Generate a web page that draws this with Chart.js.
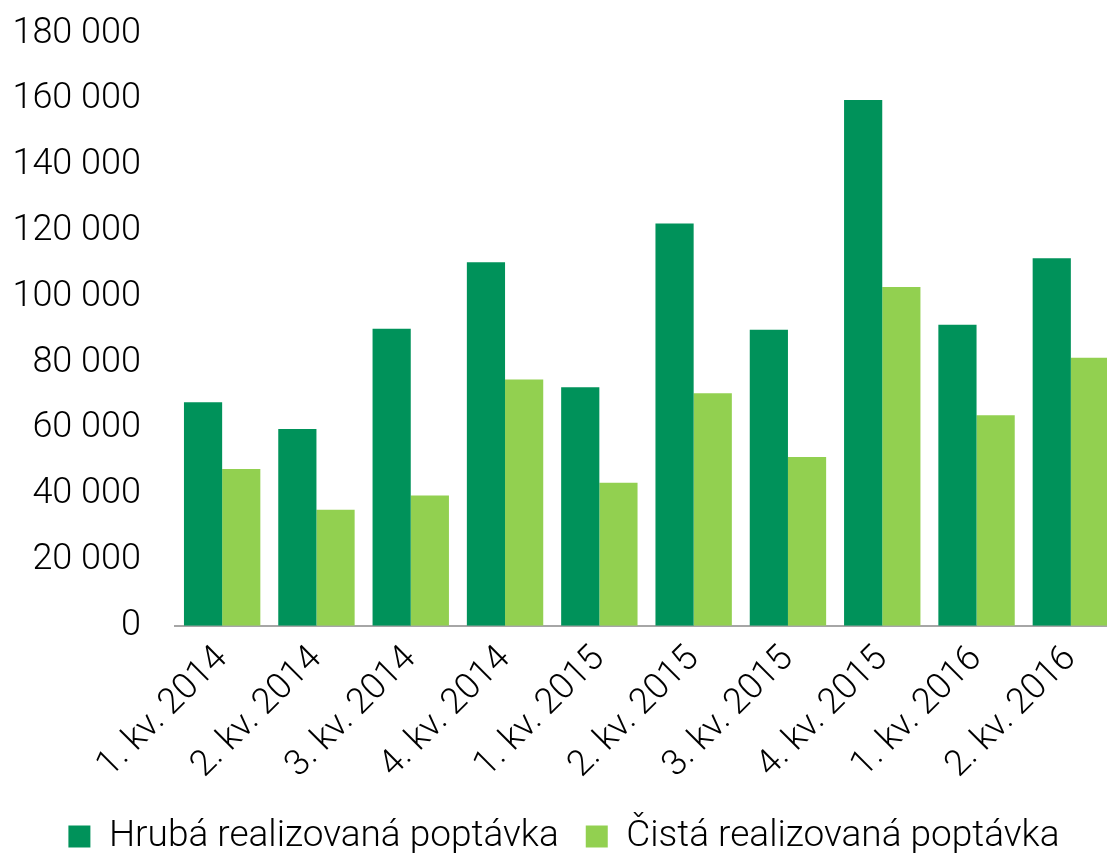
<!DOCTYPE html>
<html>
<head>
<meta charset="utf-8">
<script src="https://cdn.jsdelivr.net/npm/chart.js@4"></script>
<style>
  html, body { margin: 0; padding: 0; background: #fff; overflow: hidden; }
  #wrap { width: 1118px; height: 887px; margin-top: -22px; }
</style>
</head>
<body>
<div id="wrap"><canvas id="myChart"></canvas></div>
<script>
// quarters on the x axis
var categories = ['1. kv. 2014', '2. kv. 2014', '3. kv. 2014', '4. kv. 2014',
    '1. kv. 2015', '2. kv. 2015', '3. kv. 2015', '4. kv. 2015',
    '1. kv. 2016', '2. kv. 2016'];

// values
var hrubaValues = [68000, 59800, 90300, 110500, 72500, 122300, 90000, 159800, 91500, 111700];
var cistaValues = [47700, 35300, 39600, 74900, 43500, 70700, 51300, 103000, 64000, 81500];

var seriesNames = ['Hrubá realizovaná poptávka', 'Čistá realizovaná poptávka'];

var fontFamily = 'Roboto, "Liberation Sans", sans-serif';
var tickFont = { family: fontFamily, size: 36, weight: '300' };

var ctx = document.getElementById('myChart').getContext('2d');
var myChart = new Chart(ctx, {
    type: 'bar',
    data: {
        labels: categories,
        datasets: [{
            label: seriesNames[0],
            data: hrubaValues,
            backgroundColor: '#00925a',
            categoryPercentage: 0.81,
            barPercentage: 1.0
        }, {
            label: seriesNames[1],
            data: cistaValues,
            backgroundColor: '#92d050',
            categoryPercentage: 0.81,
            barPercentage: 1.0
        }]
    },
    options: {
        responsive: true,
        maintainAspectRatio: false,
        animation: false,
        layout: {
            padding: { top: 0, left: 10, right: 0, bottom: 0 }
        },
        plugins: {
            legend: {
                position: 'bottom',
                labels: {
                    color: '#000',
                    font: { family: fontFamily, size: 37, weight: '300' },
                    boxWidth: 22,
                    boxHeight: 22,
                    padding: 27
                }
            },
            tooltip: { enabled: false }
        },
        scales: {
            x: {
                grid: { display: false },
                border: { display: true, color: '#a6a6a6', width: 2 },
                ticks: {
                    color: '#000',
                    font: tickFont,
                    maxRotation: 45,
                    minRotation: 45,
                    padding: 4
                }
            },
            y: {
                min: 0,
                max: 180000,
                grid: { display: false, drawTicks: false },
                border: { display: false },
                afterFit: function (scale) {
                    scale.width = 165;
                },
                ticks: {
                    stepSize: 20000,
                    color: '#000',
                    font: tickFont,
                    padding: 34,
                    callback: function (value) {
                        return value.toString().replace(/\B(?=(\d{3})+(?!\d))/g, ' ');
                    }
                }
            }
        }
    }
});
</script>
</body>
</html>
